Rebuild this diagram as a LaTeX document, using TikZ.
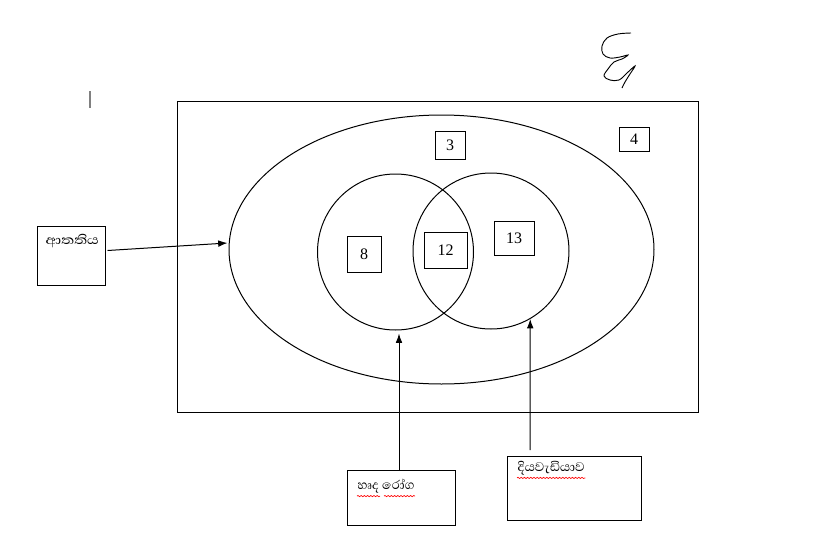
\documentclass[tikz,border=0pt]{standalone}
\usepackage{fontspec}
\setmainfont{Liberation Serif}
\newfontfamily\sinhala[Script=Sinhala]{Abhaya Libre}
\usetikzlibrary{arrows.meta,decorations.pathmorphing,shapes.geometric,calc}
\begin{document}
\begin{tikzpicture}[x=0.75pt,y=-0.75pt, line width=0.75pt,
  numbox/.style={draw, inner sep=0pt, font=\fontsize{12}{14}\selectfont},
  labbox/.style={draw, inner sep=0pt},
  labtext/.style={anchor=north west, inner sep=0pt, font=\sinhala\fontsize{12}{14}\selectfont},
  arr/.style={-{Latex[length=7pt,width=5pt]}},
  wavy/.style={red, line width=0.5pt, decorate, decoration={snake,amplitude=0.45pt,segment length=2.4pt}}]
\useasboundingbox (0,0) rectangle (819,533);

% universe
\node[draw, minimum width=521*0.75pt, minimum height=311*0.75pt, inner sep=0pt] (U) at (437.5,256.5) {};
% big ellipse
\node[draw, ellipse, minimum width=425*0.75pt, minimum height=269*0.75pt, inner sep=0pt] (E) at (441.5,249.5) {};
% circles
\node[draw, circle, minimum size=156*0.75pt, inner sep=0pt] (A) at (395.5,252) {};
\node[draw, circle, minimum size=156*0.75pt, inner sep=0pt] (B) at (491,251) {};

% number boxes
\node[numbox, minimum width=30*0.75pt, minimum height=28*0.75pt] (n3) at (450,145) {3};
\node[numbox, minimum width=30*0.75pt, minimum height=24*0.75pt] (n4) at (634,139) {4};
\node[numbox, minimum width=34*0.75pt, minimum height=36*0.75pt] (n8) at (364,254) {8};
\node[numbox, minimum width=43*0.75pt, minimum height=36*0.75pt] (n12) at (445.5,250) {12};
\node[numbox, minimum width=40*0.75pt, minimum height=34*0.75pt] (n13) at (514,238) {13};

% label boxes
\node[labbox, minimum width=68*0.75pt, minimum height=59*0.75pt] (L) at (71,255.5) {};
\node[labtext] (Lt) at (45,234) {\scalebox{1.2}[1]{ආතතිය}};
\node[labbox, minimum width=108*0.75pt, minimum height=55*0.75pt] (H) at (401,497.5) {};
\node[labtext] (Ht) at (357,479) {හෘද රෝග};
\node[labbox, minimum width=134*0.75pt, minimum height=64*0.75pt] (D) at (574,488) {};
\node[labtext] (Dt) at (517,461) {\scalebox{1.05}[1]{දියවැඩියාව}};

% spell-check squiggles
\draw[wavy] ($(Ht.south west)+(0,2)$) -- ($(Ht.south west)+(23,2)$);
\draw[wavy] ($(Ht.south west)+(27,2)$) -- ($(Ht.south east)+(0,2)$);
\draw[wavy] ($(Dt.south west)+(0,2)$) -- ($(Dt.south east)+(0,2)$);

% arrows
\draw[arr] ($(L.east)+(2,-5)$) -- ($(E.west)+(-1,-6.5)$);
\draw[arr] ($(H.north)+(-2,0)$) -- ($(A.south)+(3.5,3)$);
\coordinate (dtop) at (530,450);
\draw[arr] (dtop) -- (B.-60);

% stray marks
\coordinate (g1) at (90,91);
\coordinate (g2) at (90,108);
\draw[gray, line width=1pt] (g1) -- (g2);
\draw[line width=0.7pt] plot[smooth, tension=0.6] coordinates {(631,33) (618,34) (607,38) (602,46) (603,54) (610,58) (620,57) (628,55) (622,59) (614,62) (608,69) (604,76) (610,80) (619,80) (627,73) (635,66) (630,74) (625,82) (622,88)};
\end{tikzpicture}
\end{document}
